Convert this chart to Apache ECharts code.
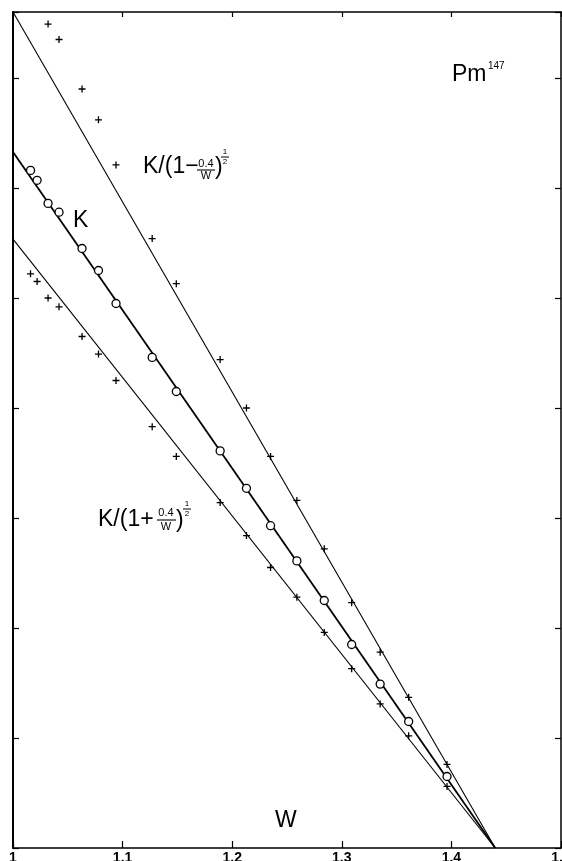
<!DOCTYPE html>
<html><head><meta charset="utf-8">
<script src="https://cdn.jsdelivr.net/npm/echarts@6/dist/echarts.min.js"></script>
<style>html,body{margin:0;padding:0;background:#fff}#c{width:562px;height:861px}</style>
</head><body><div id="c"></div>
<script>
// ---- data (W on x, kinetic-plot ordinate in tick units on y) ----
const xTickLabels = ['1', '1.1', '1.2', '1.3', '1.4', '1.5'];

const circleW = [1.016, 1.022, 1.032, 1.042, 1.063, 1.078, 1.094, 1.127, 1.149, 1.189, 1.213, 1.235, 1.259, 1.284, 1.309, 1.335, 1.361, 1.396];
const circleK = [6.16, 6.07, 5.86, 5.78, 5.45, 5.25, 4.95, 4.46, 4.15, 3.61, 3.27, 2.93, 2.61, 2.25, 1.85, 1.49, 1.15, 0.65];

const upperW = [1.032, 1.042, 1.063, 1.078, 1.094, 1.127, 1.149, 1.189, 1.213, 1.235, 1.259, 1.284, 1.309, 1.335, 1.361, 1.396];
const upperK = [7.49, 7.35, 6.90, 6.62, 6.21, 5.54, 5.13, 4.44, 4.00, 3.56, 3.16, 2.72, 2.23, 1.78, 1.37, 0.76];

const lowerW = [1.016, 1.022, 1.032, 1.042, 1.063, 1.078, 1.094, 1.127, 1.149, 1.189, 1.213, 1.235, 1.259, 1.284, 1.309, 1.335, 1.361, 1.396];
const lowerK = [5.22, 5.15, 5.00, 4.92, 4.65, 4.49, 4.25, 3.83, 3.56, 3.14, 2.84, 2.55, 2.28, 1.96, 1.63, 1.31, 1.02, 0.56];

const fitW = [1.0, 1.44];
const upperFit = [7.6, 0];
const kFit = [6.327, 0];
const lowerFit = [5.536, 0];

const zip = (a, b) => a.map((v, i) => [v, b[i]]);

const FONT = '"Liberation Sans", Arial, sans-serif';
const plus = 'path://M0,4L8,4M4,0L4,8';

function txt(text, x, y, size, align) {
  return { type: 'text', silent: true, z: 100,
    style: { text, x, y, font: size + 'px ' + FONT, fill: '#000',
      textAlign: align || 'left', align: align || 'left',
      textVerticalAlign: 'middle', verticalAlign: 'middle' } };
}
function bar(x1, x2, y, w) {
  return { type: 'line', silent: true, z: 100,
    shape: { x1, y1: y, x2, y2: y }, style: { stroke: '#000', lineWidth: w || 1.1 } };
}

const graphics = [
  // K/(1 - 0.4/W)^(1/2)
  txt('K/(1\u2212', 143, 167, 23),
  txt('0.4', 206, 164, 11, 'center'), bar(197, 215, 170), txt('W', 206, 176, 11, 'center'),
  txt(')', 215, 168, 23),
  txt('1', 225, 152, 8, 'center'), bar(221, 229, 157, 1), txt('2', 225, 162, 8, 'center'),
  // K/(1 + 0.4/W)^(1/2)
  txt('K/(1+', 98, 520, 23),
  txt('0.4', 166, 513, 11, 'center'), bar(157, 176, 520), txt('W', 166, 527, 11, 'center'),
  txt(')', 176, 521, 23),
  txt('1', 187, 504, 8, 'center'), bar(183, 191, 509, 1), txt('2', 187, 514, 8, 'center'),
  // K
  txt('K', 73, 221, 23),
  // W
  txt('W', 275, 821, 23),
  // Pm147
  txt('Pm', 452, 75, 23),
  txt('147', 488, 66, 10)
];

const chart = echarts.init(document.getElementById('c'), null, { renderer: 'canvas' });
const axisCommon = {
  type: 'value',
  splitLine: { show: false },
  axisLine: { show: true, onZero: false, lineStyle: { color: '#000', width: 1.5 } },
  axisTick: { show: true, inside: true, length: 7, lineStyle: { color: '#000', width: 1.2 } }
};
chart.setOption({
  animation: false,
  backgroundColor: '#fff',
  grid: { left: 13, right: 1, top: 12, bottom: 13, containLabel: false, outerBoundsMode: 'none' },
  xAxis: [
    Object.assign({}, axisCommon, {
      position: 'bottom', min: 1, max: 1.5, interval: 0.1,
      axisLabel: { show: true, margin: 3, color: '#000', fontSize: 14, fontFamily: FONT, fontWeight: 'bold',
        showMinLabel: true, showMaxLabel: true, hideOverlap: false,
        formatter: v => xTickLabels[Math.round((v - 1) * 10)] }
    }),
    Object.assign({}, axisCommon, {
      position: 'top', min: 1, max: 1.5, interval: 0.1,
      axisTick: { show: true, inside: true, length: 5, lineStyle: { color: '#000', width: 1.2 } },
      axisLabel: { show: false }
    })
  ],
  yAxis: [
    Object.assign({}, axisCommon, {
      position: 'left', min: 0, max: 7.6, interval: 1,
      axisLine: { show: true, onZero: false, lineStyle: { color: '#000', width: 2 } },
      axisTick: { show: true, inside: true, length: 6, lineStyle: { color: '#000', width: 1.2 } },
      axisLabel: { show: false }
    }),
    Object.assign({}, axisCommon, {
      position: 'right', min: 0, max: 7.6, interval: 1,
      axisTick: { show: true, inside: true, length: 6, lineStyle: { color: '#000', width: 1.2 } },
      axisLabel: { show: false }
    })
  ],
  series: [
    { type: 'line', data: zip(fitW, upperFit), symbol: 'none', lineStyle: { color: '#000', width: 1.1 }, z: 2, silent: true },
    { type: 'line', data: zip(fitW, kFit), symbol: 'none', lineStyle: { color: '#000', width: 1.8 }, z: 2, silent: true },
    { type: 'line', data: zip(fitW, lowerFit), symbol: 'none', lineStyle: { color: '#000', width: 1.1 }, z: 2, silent: true },
    { type: 'scatter', data: zip(circleW, circleK), symbol: 'circle', symbolSize: 8,
      itemStyle: { color: '#fff', borderColor: '#000', borderWidth: 1.3, opacity: 1 }, z: 5, silent: true },
    { type: 'scatter', data: zip(upperW, upperK), symbol: plus, symbolSize: 7,
      itemStyle: { color: 'none', borderColor: '#000', borderWidth: 1.3, opacity: 1 }, z: 5, silent: true },
    { type: 'scatter', data: zip(lowerW, lowerK), symbol: plus, symbolSize: 7,
      itemStyle: { color: 'none', borderColor: '#000', borderWidth: 1.3, opacity: 1 }, z: 5, silent: true }
  ],
  graphic: graphics
});
</script>
</body></html>
